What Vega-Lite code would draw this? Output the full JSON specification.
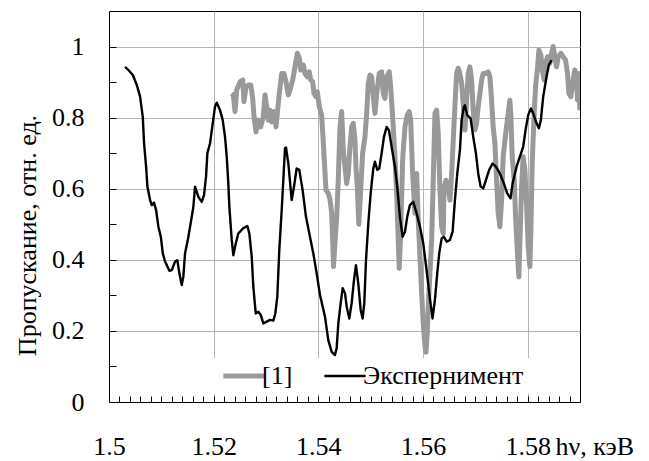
{
  "$schema": "https://vega.github.io/schema/vega-lite/v6.json",
  "width": 471,
  "height": 391,
  "autosize": {"type": "none"},
  "padding": {"left": 109, "top": 11, "right": 69, "bottom": 59},
  "background": "white",
  "config": {
    "view": {"stroke": "black", "strokeWidth": 1},
    "font": "Times New Roman, Liberation Serif, DejaVu Serif, serif",
    "axis": {"domainColor": "black", "tickColor": "black", "labelColor": "black", "titleColor": "black"},
    "legend": {
      "orient": "none", "legendX": 103, "legendY": 347, "direction": "horizontal",
      "title": null, "fillColor": "white", "strokeColor": null, "padding": 5,
      "symbolType": "stroke", "symbolSize": 1700, "symbolOffset": 14,
      "labelFont": "Times New Roman, Liberation Serif, DejaVu Serif, serif", "labelFontSize": 26, "labelColor": "black", "labelOffset": 5,
      "columnPadding": 25, "labelLimit": 400
    }
  },
  "datasets": {
    "ref": [
      {"x":1.52345,"y":0.868},{"x":1.52376,"y":0.864},{"x":1.52408,"y":0.817},{"x":1.52441,"y":0.878},{"x":1.52504,"y":0.901},{"x":1.52555,"y":0.906},{"x":1.5258,"y":0.845},{"x":1.52618,"y":0.887},{"x":1.52662,"y":0.892},{"x":1.52708,"y":0.892},{"x":1.52746,"y":0.854},{"x":1.52771,"y":0.803},{"x":1.52809,"y":0.76},{"x":1.52853,"y":0.793},{"x":1.52899,"y":0.774},{"x":1.52949,"y":0.803},{"x":1.52981,"y":0.864},{"x":1.53014,"y":0.831},{"x":1.53044,"y":0.793},{"x":1.53077,"y":0.821},{"x":1.53109,"y":0.788},{"x":1.53153,"y":0.817},{"x":1.53191,"y":0.774},{"x":1.53216,"y":0.812},{"x":1.53254,"y":0.868},{"x":1.533,"y":0.924},{"x":1.53344,"y":0.924},{"x":1.53382,"y":0.901},{"x":1.53426,"y":0.864},{"x":1.53459,"y":0.878},{"x":1.5351,"y":0.906},{"x":1.53554,"y":0.943},{"x":1.53598,"y":0.981},{"x":1.53636,"y":0.967},{"x":1.53663,"y":0.934},{"x":1.53713,"y":0.948},{"x":1.53745,"y":0.924},{"x":1.53789,"y":0.915},{"x":1.53827,"y":0.929},{"x":1.53854,"y":0.906},{"x":1.53892,"y":0.901},{"x":1.53917,"y":0.868},{"x":1.53955,"y":0.859},{"x":1.5398,"y":0.873},{"x":1.54018,"y":0.831},{"x":1.54064,"y":0.807},{"x":1.54095,"y":0.73},{"x":1.54146,"y":0.596},{"x":1.5419,"y":0.587},{"x":1.54223,"y":0.57},{"x":1.54255,"y":0.531},{"x":1.54274,"y":0.456},{"x":1.5429,"y":0.381},{"x":1.54318,"y":0.45},{"x":1.54351,"y":0.521},{"x":1.54381,"y":0.624},{"x":1.54414,"y":0.774},{"x":1.54446,"y":0.817},{"x":1.54477,"y":0.709},{"x":1.54509,"y":0.662},{"x":1.54542,"y":0.615},{"x":1.54572,"y":0.643},{"x":1.54605,"y":0.718},{"x":1.54637,"y":0.774},{"x":1.54668,"y":0.784},{"x":1.547,"y":0.737},{"x":1.54719,"y":0.662},{"x":1.54744,"y":0.606},{"x":1.54773,"y":0.5},{"x":1.54809,"y":0.596},{"x":1.54847,"y":0.7},{"x":1.54891,"y":0.746},{"x":1.54924,"y":0.812},{"x":1.54954,"y":0.896},{"x":1.54987,"y":0.92},{"x":1.55019,"y":0.915},{"x":1.5505,"y":0.859},{"x":1.55082,"y":0.812},{"x":1.55115,"y":0.868},{"x":1.55164,"y":0.924},{"x":1.5521,"y":0.929},{"x":1.55241,"y":0.868},{"x":1.55273,"y":0.854},{"x":1.55306,"y":0.915},{"x":1.55355,"y":0.929},{"x":1.55382,"y":0.887},{"x":1.5542,"y":0.803},{"x":1.55464,"y":0.69},{"x":1.55497,"y":0.587},{"x":1.55527,"y":0.456},{"x":1.55546,"y":0.376},{"x":1.55573,"y":0.474},{"x":1.55611,"y":0.681},{"x":1.55655,"y":0.774},{"x":1.55699,"y":0.807},{"x":1.55737,"y":0.817},{"x":1.55764,"y":0.793},{"x":1.55802,"y":0.643},{"x":1.55846,"y":0.531},{"x":1.55879,"y":0.643},{"x":1.55909,"y":0.512},{"x":1.55942,"y":0.409},{"x":1.55974,"y":0.306},{"x":1.56005,"y":0.221},{"x":1.56037,"y":0.16},{"x":1.56056,"y":0.14},{"x":1.56081,"y":0.193},{"x":1.561,"y":0.268},{"x":1.56133,"y":0.362},{"x":1.56165,"y":0.456},{"x":1.56196,"y":0.624},{"x":1.56228,"y":0.812},{"x":1.5626,"y":0.821},{"x":1.56291,"y":0.756},{"x":1.56324,"y":0.596},{"x":1.56356,"y":0.493},{"x":1.56387,"y":0.474},{"x":1.564,"y":0.596},{"x":1.56438,"y":0.624},{"x":1.56482,"y":0.606},{"x":1.56515,"y":0.568},{"x":1.56547,"y":0.643},{"x":1.56578,"y":0.737},{"x":1.5661,"y":0.831},{"x":1.56642,"y":0.924},{"x":1.56673,"y":0.939},{"x":1.56705,"y":0.924},{"x":1.56738,"y":0.896},{"x":1.56769,"y":0.84},{"x":1.56801,"y":0.765},{"x":1.56833,"y":0.849},{"x":1.56864,"y":0.924},{"x":1.56896,"y":0.943},{"x":1.56929,"y":0.906},{"x":1.56959,"y":0.821},{"x":1.56992,"y":0.765},{"x":1.57024,"y":0.784},{"x":1.57055,"y":0.831},{"x":1.57087,"y":0.868},{"x":1.5712,"y":0.906},{"x":1.5715,"y":0.924},{"x":1.57202,"y":0.924},{"x":1.57246,"y":0.929},{"x":1.57278,"y":0.915},{"x":1.57311,"y":0.849},{"x":1.57341,"y":0.774},{"x":1.57374,"y":0.728},{"x":1.57406,"y":0.624},{"x":1.57437,"y":0.531},{"x":1.57469,"y":0.493},{"x":1.57502,"y":0.568},{"x":1.57532,"y":0.69},{"x":1.57584,"y":0.76},{"x":1.57628,"y":0.812},{"x":1.5766,"y":0.849},{"x":1.5768,"y":0.803},{"x":1.57704,"y":0.69},{"x":1.57743,"y":0.624},{"x":1.57769,"y":0.521},{"x":1.57808,"y":0.409},{"x":1.57832,"y":0.352},{"x":1.57851,"y":0.446},{"x":1.57884,"y":0.606},{"x":1.57914,"y":0.69},{"x":1.57947,"y":0.653},{"x":1.57979,"y":0.559},{"x":1.5801,"y":0.437},{"x":1.58042,"y":0.381},{"x":1.58062,"y":0.484},{"x":1.58086,"y":0.671},{"x":1.58125,"y":0.812},{"x":1.58151,"y":0.887},{"x":1.5819,"y":0.943},{"x":1.58214,"y":0.99},{"x":1.58253,"y":0.976},{"x":1.58277,"y":0.934},{"x":1.58316,"y":0.906},{"x":1.58342,"y":0.953},{"x":1.58381,"y":0.971},{"x":1.58424,"y":0.953},{"x":1.58457,"y":0.981},{"x":1.58487,"y":1.0},{"x":1.5852,"y":0.971},{"x":1.58552,"y":0.943},{"x":1.58583,"y":0.971},{"x":1.58635,"y":0.981},{"x":1.58678,"y":0.971},{"x":1.58724,"y":0.962},{"x":1.58762,"y":0.924},{"x":1.58787,"y":0.868},{"x":1.58825,"y":0.859},{"x":1.58869,"y":0.906},{"x":1.58902,"y":0.934},{"x":1.58934,"y":0.906},{"x":1.58953,"y":0.849},{"x":1.58978,"y":0.924},{"x":1.58997,"y":0.821}
    ],
    "exp": [
      {"x":1.50307,"y":0.943},{"x":1.5037,"y":0.934},{"x":1.50455,"y":0.92},{"x":1.50531,"y":0.892},{"x":1.50594,"y":0.859},{"x":1.50645,"y":0.803},{"x":1.5067,"y":0.728},{"x":1.50709,"y":0.662},{"x":1.50734,"y":0.606},{"x":1.50785,"y":0.568},{"x":1.50817,"y":0.554},{"x":1.5086,"y":0.561},{"x":1.509,"y":0.54},{"x":1.50944,"y":0.493},{"x":1.5099,"y":0.465},{"x":1.51028,"y":0.418},{"x":1.51071,"y":0.395},{"x":1.51154,"y":0.369},{"x":1.512,"y":0.371},{"x":1.51262,"y":0.395},{"x":1.51306,"y":0.399},{"x":1.51345,"y":0.362},{"x":1.5139,"y":0.329},{"x":1.5142,"y":0.352},{"x":1.51453,"y":0.418},{"x":1.51517,"y":0.465},{"x":1.51549,"y":0.493},{"x":1.51581,"y":0.521},{"x":1.51612,"y":0.549},{"x":1.51644,"y":0.606},{"x":1.51708,"y":0.577},{"x":1.51772,"y":0.563},{"x":1.51816,"y":0.582},{"x":1.51854,"y":0.634},{"x":1.5188,"y":0.7},{"x":1.51931,"y":0.728},{"x":1.51982,"y":0.784},{"x":1.52026,"y":0.831},{"x":1.52059,"y":0.842},{"x":1.52122,"y":0.821},{"x":1.52173,"y":0.793},{"x":1.52217,"y":0.746},{"x":1.5225,"y":0.69},{"x":1.5228,"y":0.615},{"x":1.523,"y":0.549},{"x":1.52345,"y":0.456},{"x":1.52376,"y":0.413},{"x":1.52422,"y":0.446},{"x":1.52471,"y":0.474},{"x":1.52567,"y":0.489},{"x":1.52644,"y":0.495},{"x":1.52682,"y":0.474},{"x":1.52727,"y":0.409},{"x":1.52758,"y":0.324},{"x":1.52804,"y":0.249},{"x":1.52853,"y":0.254},{"x":1.52899,"y":0.245},{"x":1.52949,"y":0.221},{"x":1.53014,"y":0.226},{"x":1.53077,"y":0.231},{"x":1.5314,"y":0.229},{"x":1.53178,"y":0.249},{"x":1.53216,"y":0.296},{"x":1.53254,"y":0.428},{"x":1.533,"y":0.54},{"x":1.53363,"y":0.714},{"x":1.53382,"y":0.716},{"x":1.53427,"y":0.671},{"x":1.53491,"y":0.568},{"x":1.53535,"y":0.606},{"x":1.53586,"y":0.657},{"x":1.53636,"y":0.653},{"x":1.537,"y":0.596},{"x":1.53764,"y":0.521},{"x":1.5384,"y":0.465},{"x":1.53904,"y":0.418},{"x":1.53968,"y":0.362},{"x":1.54032,"y":0.301},{"x":1.54127,"y":0.24},{"x":1.5419,"y":0.174},{"x":1.54255,"y":0.141},{"x":1.54318,"y":0.132},{"x":1.5435,"y":0.151},{"x":1.54382,"y":0.221},{"x":1.54427,"y":0.278},{"x":1.54465,"y":0.32},{"x":1.5451,"y":0.306},{"x":1.54542,"y":0.268},{"x":1.54591,"y":0.235},{"x":1.54637,"y":0.278},{"x":1.54681,"y":0.343},{"x":1.54719,"y":0.385},{"x":1.54763,"y":0.334},{"x":1.54809,"y":0.259},{"x":1.54847,"y":0.235},{"x":1.54878,"y":0.278},{"x":1.54911,"y":0.399},{"x":1.54955,"y":0.503},{"x":1.55,"y":0.587},{"x":1.5505,"y":0.657},{"x":1.55082,"y":0.676},{"x":1.55126,"y":0.653},{"x":1.55164,"y":0.657},{"x":1.5521,"y":0.7},{"x":1.55254,"y":0.746},{"x":1.55305,"y":0.774},{"x":1.55349,"y":0.765},{"x":1.554,"y":0.718},{"x":1.55464,"y":0.662},{"x":1.55508,"y":0.606},{"x":1.55559,"y":0.521},{"x":1.5561,"y":0.465},{"x":1.55655,"y":0.479},{"x":1.55699,"y":0.521},{"x":1.5575,"y":0.554},{"x":1.55814,"y":0.563},{"x":1.55878,"y":0.531},{"x":1.55942,"y":0.493},{"x":1.56005,"y":0.446},{"x":1.56069,"y":0.37},{"x":1.56133,"y":0.29},{"x":1.56182,"y":0.235},{"x":1.56228,"y":0.287},{"x":1.56272,"y":0.362},{"x":1.5631,"y":0.418},{"x":1.56356,"y":0.46},{"x":1.564,"y":0.465},{"x":1.56452,"y":0.451},{"x":1.56515,"y":0.456},{"x":1.56566,"y":0.479},{"x":1.5661,"y":0.568},{"x":1.56655,"y":0.643},{"x":1.56706,"y":0.709},{"x":1.56738,"y":0.793},{"x":1.56782,"y":0.831},{"x":1.56801,"y":0.835},{"x":1.56845,"y":0.807},{"x":1.5691,"y":0.798},{"x":1.5696,"y":0.746},{"x":1.57011,"y":0.7},{"x":1.57055,"y":0.643},{"x":1.57101,"y":0.606},{"x":1.57151,"y":0.601},{"x":1.57202,"y":0.624},{"x":1.57265,"y":0.653},{"x":1.5733,"y":0.671},{"x":1.57393,"y":0.662},{"x":1.57469,"y":0.643},{"x":1.57545,"y":0.615},{"x":1.57609,"y":0.587},{"x":1.57673,"y":0.573},{"x":1.57712,"y":0.615},{"x":1.57788,"y":0.662},{"x":1.57851,"y":0.69},{"x":1.57914,"y":0.718},{"x":1.5796,"y":0.765},{"x":1.5801,"y":0.807},{"x":1.58062,"y":0.826},{"x":1.58106,"y":0.812},{"x":1.5817,"y":0.784},{"x":1.58214,"y":0.77},{"x":1.58252,"y":0.793},{"x":1.58297,"y":0.859},{"x":1.58361,"y":0.915},{"x":1.58405,"y":0.948},{"x":1.58457,"y":0.962}
    ]
  },
  "layer": [
    {
      "data": {"name": "ref"},
      "transform": [{"calculate": "'[1]'", "as": "s"}],
      "mark": {"type": "line", "clip": true, "strokeJoin": "round", "strokeWidth": 5},
      "encoding": {
        "x": {
          "field": "x", "type": "quantitative",
          "scale": {"domain": [1.5, 1.59], "nice": false, "zero": false},
          "axis": {
            "orient": "bottom",
            "values": [1.5, 1.52, 1.54, 1.56, 1.58],
            "format": "~g",
            "grid": true, "gridColor": "#b4b4b4", "gridWidth": 1,
            "ticks": false, "domain": true, "domainColor": "black",
            "labelFont": "Times New Roman, Liberation Serif, DejaVu Serif, serif", "labelFontSize": 26, "labelColor": "black",
            "labelPadding": 44, "labelBaseline": "middle", "labelFlush": false, "labelOverlap": false,
            "title": "hν, кэВ", "titleFont": "Times New Roman, Liberation Serif, DejaVu Serif, serif", "titleFontSize": 26, "titleFontWeight": "normal",
            "titleX": 446, "titleY": 44, "titleAlign": "left", "titleBaseline": "middle", "titleAnchor": "start"
          }
        },
        "y": {
          "field": "y", "type": "quantitative",
          "scale": {"domain": [0, 1.1], "nice": false, "zero": false},
          "axis": {
            "orient": "left",
            "values": [0, 0.2, 0.4, 0.6, 0.8, 1],
            "format": "~g",
            "grid": true, "gridColor": "#b4b4b4", "gridWidth": 1,
            "ticks": false, "domain": true, "domainColor": "black",
            "labelFont": "Times New Roman, Liberation Serif, DejaVu Serif, serif", "labelFontSize": 26, "labelColor": "black",
            "labelPadding": 25, "labelFlush": false, "labelOverlap": false,
            "title": "Пропускание, отн. ед.", "titleFont": "Times New Roman, Liberation Serif, DejaVu Serif, serif", "titleFontSize": 26, "titleFontWeight": "normal",
            "titleX": -82, "titleY": 224, "titleAngle": -90, "titleAlign": "center", "titleBaseline": "middle"
          }
        },
        "color": {
          "field": "s", "type": "nominal",
          "scale": {"domain": ["[1]", "Экспернимент"], "range": ["#999999", "#000000"]},
          "legend": {
            "encode": {"symbols": {"update": {"strokeWidth": {"signal": "datum.value === '[1]' ? 5 : 2.4"}}}}
          }
        }
      }
    },
    {
      "data": {"name": "exp"},
      "transform": [{"calculate": "'Экспернимент'", "as": "s"}],
      "mark": {"type": "line", "clip": true, "strokeJoin": "round", "strokeWidth": 2.4},
      "encoding": {
        "x": {
          "field": "x", "type": "quantitative",
          "axis": {
            "orient": "bottom",
            "values": [1.502,1.504,1.506,1.508,1.51,1.512,1.514,1.516,1.518,1.52,1.522,1.524,1.526,1.528,1.53,1.532,1.534,1.536,1.538,1.54,1.542,1.544,1.546,1.548,1.55,1.552,1.554,1.556,1.558,1.56,1.562,1.564,1.566,1.568,1.57,1.572,1.574,1.576,1.578,1.58,1.582,1.584,1.586,1.588],
            "labels": false, "grid": false, "ticks": true, "tickSize": -6, "tickColor": "black", "tickWidth": 1,
            "domain": false, "title": null
          }
        },
        "y": {
          "field": "y", "type": "quantitative",
          "axis": {
            "orient": "left",
            "values": [0.1, 0.2, 0.3, 0.4, 0.5, 0.6, 0.7, 0.8, 0.9, 1.0],
            "labels": false, "grid": false, "ticks": true, "tickSize": -7, "tickColor": "black", "tickWidth": 1,
            "domain": false, "title": null
          }
        },
        "color": {
          "field": "s", "type": "nominal",
          "legend": {
            "encode": {"symbols": {"update": {"strokeWidth": {"signal": "datum.value === '[1]' ? 5 : 2.4"}}}}
          }
        }
      }
    }
  ],
  "resolve": {"axis": {"x": "independent", "y": "independent"}}
}
